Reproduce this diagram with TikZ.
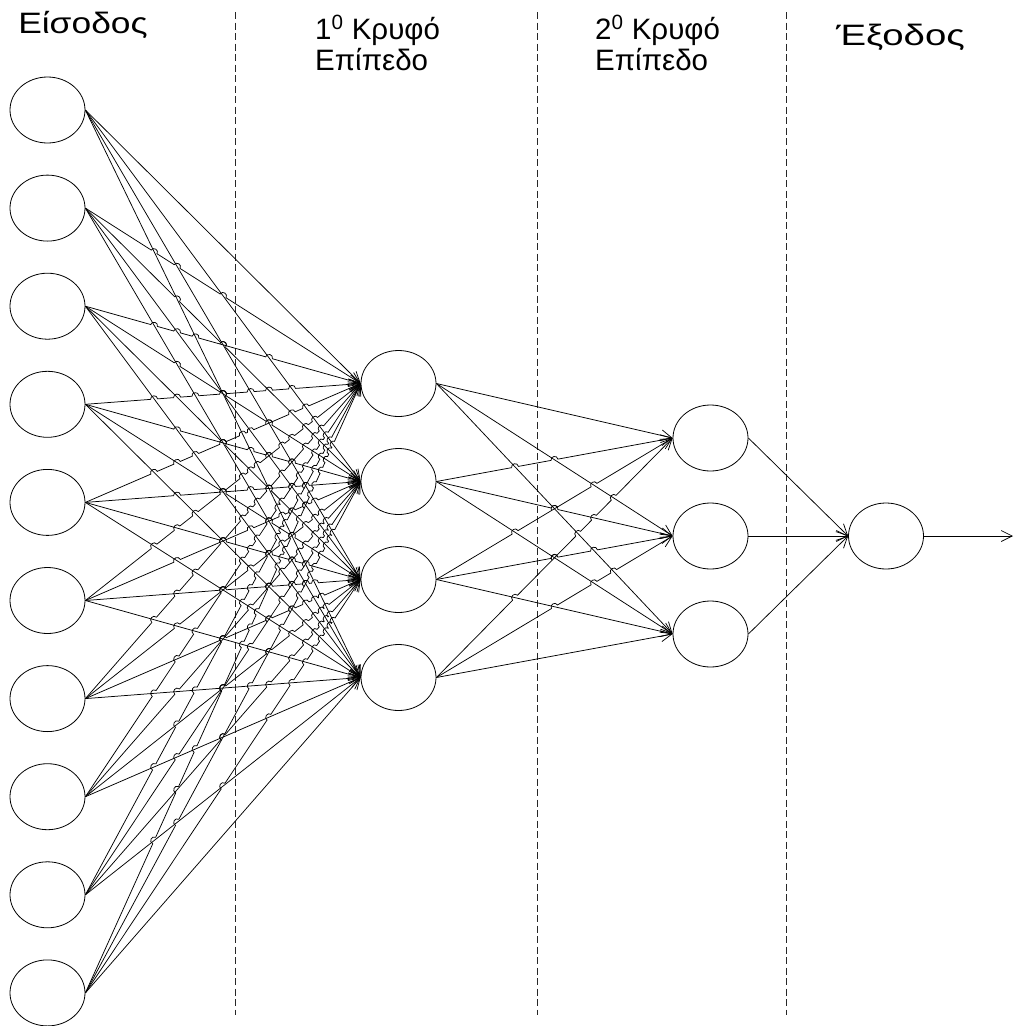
\documentclass[tikz,border=0pt]{standalone}
\usepackage{fontspec}
\setmainfont{Liberation Sans}
\usetikzlibrary{shapes.geometric,arrows.meta}
\newcommand\hopr{3.5}
\newcommand\hopk{4.4}
\begin{document}
\begin{tikzpicture}[x=1pt,y=-1pt,
  neuron/.style={draw, ellipse, minimum width=75pt, minimum height=66pt, inner sep=0pt, line width=0.8pt},
  conn/.style={line width=0.75pt, -{Straight Barb[length=11pt,width=11pt]}},
  hop/.style={line width=0.75pt},
  sepline/.style={draw=black!85, line width=0.7pt, dash pattern=on 7pt off 3.5pt},
  lbl/.style={font=\fontsize{29.5}{31}\selectfont, inner sep=0pt, align=left, anchor=base west}
]
\useasboundingbox (0,0) rectangle (1014,1026);
% separators
\draw[sepline] (235,12) -- (235,1015);
\draw[sepline] (537,12) -- (537,1015);
\draw[sepline] (786,12) -- (786,1015);
% neurons
\foreach \i in {0,...,9} \node[neuron] (in\i) at (47.5, {110+98.1*\i}) {};
\foreach \i in {0,...,3} \node[neuron] (h\i) at (398.5, {383.5+98*\i}) {};
\foreach \i in {0,...,2} \node[neuron] (g\i) at (710.5, {438+98*\i}) {};
\node[neuron] (out) at (886, 536) {};
\coordinate (end) at (1013, 536);
% input -> hidden 1, with line jumps
\foreach \i in {0,...,9}{
  \foreach \j in {0,...,3}{
    \pgfmathsetmacro\hya{110+98.1*\i}
    \pgfmathsetmacro\hyb{383.5+98*\j}
    \pgfmathsetmacro\hdy{\hyb-\hya}
    \pgfmathsetmacro\hlen{100*sqrt(2.76*2.76+(\hdy/100)*(\hdy/100))}
    \pgfmathsetmacro\hux{276/\hlen}
    \pgfmathsetmacro\huy{\hdy/\hlen}
    \gdef\hclip{}\gdef\harcs{}
    \foreach \ii in {0,...,9}{
      \foreach \jj in {0,...,3}{
        \ifnum\ii<\i\relax\ifnum\jj>\j\relax
          \pgfmathsetmacro\ha{\hya-(110+98.1*\ii)}
          \pgfmathsetmacro\hb{(383.5+98*\jj)-\hyb}
          \pgfmathsetmacro\ht{\ha/(\ha+\hb)}
          \pgfmathsetmacro\hcx{85+276*\ht}
          \pgfmathsetmacro\hcy{\hya+\hdy*\ht}
          \pgfmathsetmacro\hAx{\hcx-\hopr*\hux}
          \pgfmathsetmacro\hAy{\hcy-\hopr*\huy}
          \pgfmathsetmacro\hDx{\hcx+\hopr*\hux}
          \pgfmathsetmacro\hDy{\hcy+\hopr*\huy}
          \pgfmathsetmacro\hBx{\hAx+\hopk*\huy}
          \pgfmathsetmacro\hBy{\hAy-\hopk*\hux}
          \pgfmathsetmacro\hCx{\hDx+\hopk*\huy}
          \pgfmathsetmacro\hCy{\hDy-\hopk*\hux}
          \xdef\hclip{\hclip (\hcx,\hcy) circle[radius=\hopr]}
          \xdef\harcs{\harcs (\hAx,\hAy) .. controls (\hBx,\hBy) and (\hCx,\hCy) .. (\hDx,\hDy)}
        \fi\fi
      }
    }
    \begin{scope}[even odd rule]
      \clip (0,0) rectangle (1014,1026) \hclip;
      \draw[conn] (in\i.east) -- (h\j.west);
    \end{scope}
    \draw[hop] \harcs;
  }
}
% hidden 1 -> hidden 2, with line jumps
\foreach \i in {0,...,3}{
  \foreach \j in {0,...,2}{
    \pgfmathsetmacro\hya{383.5+98*\i}
    \pgfmathsetmacro\hyb{438+98*\j}
    \pgfmathsetmacro\hdy{\hyb-\hya}
    \pgfmathsetmacro\hlen{100*sqrt(2.37*2.37+(\hdy/100)*(\hdy/100))}
    \pgfmathsetmacro\hux{237/\hlen}
    \pgfmathsetmacro\huy{\hdy/\hlen}
    \gdef\hclip{}\gdef\harcs{}
    \foreach \ii in {0,...,3}{
      \foreach \jj in {0,...,2}{
        \ifnum\ii<\i\relax\ifnum\jj>\j\relax
          \pgfmathsetmacro\ha{\hya-(383.5+98*\ii)}
          \pgfmathsetmacro\hb{(438+98*\jj)-\hyb}
          \pgfmathsetmacro\ht{\ha/(\ha+\hb)}
          \pgfmathsetmacro\hcx{436+237*\ht}
          \pgfmathsetmacro\hcy{\hya+\hdy*\ht}
          \pgfmathsetmacro\hAx{\hcx-\hopr*\hux}
          \pgfmathsetmacro\hAy{\hcy-\hopr*\huy}
          \pgfmathsetmacro\hDx{\hcx+\hopr*\hux}
          \pgfmathsetmacro\hDy{\hcy+\hopr*\huy}
          \pgfmathsetmacro\hBx{\hAx+\hopk*\huy}
          \pgfmathsetmacro\hBy{\hAy-\hopk*\hux}
          \pgfmathsetmacro\hCx{\hDx+\hopk*\huy}
          \pgfmathsetmacro\hCy{\hDy-\hopk*\hux}
          \xdef\hclip{\hclip (\hcx,\hcy) circle[radius=\hopr]}
          \xdef\harcs{\harcs (\hAx,\hAy) .. controls (\hBx,\hBy) and (\hCx,\hCy) .. (\hDx,\hDy)}
        \fi\fi
      }
    }
    \begin{scope}[even odd rule]
      \clip (0,0) rectangle (1014,1026) \hclip;
      \draw[conn] (h\i.east) -- (g\j.west);
    \end{scope}
    \draw[hop] \harcs;
  }
}
% hidden 2 -> output -> out
\foreach \i in {0,...,2} \draw[conn] (g\i.east) -- (out.west);
\draw[conn] (out.east) -- (end);
% labels
\node[lbl, anchor=base] (tin) at (83,33) {\scalebox{1.2}[1]{Είσοδος}};
\node[lbl] (th1) at (315,70) {1\textsuperscript{0} Κρυφό\\Επίπεδο};
\node[lbl] (th2) at (595,70) {2\textsuperscript{0} Κρυφό\\Επίπεδο};
\node[lbl, anchor=base east] (tout) at (965,45) {\scalebox{1.3}[1]{Έξοδος}};
\end{tikzpicture}
\end{document}
